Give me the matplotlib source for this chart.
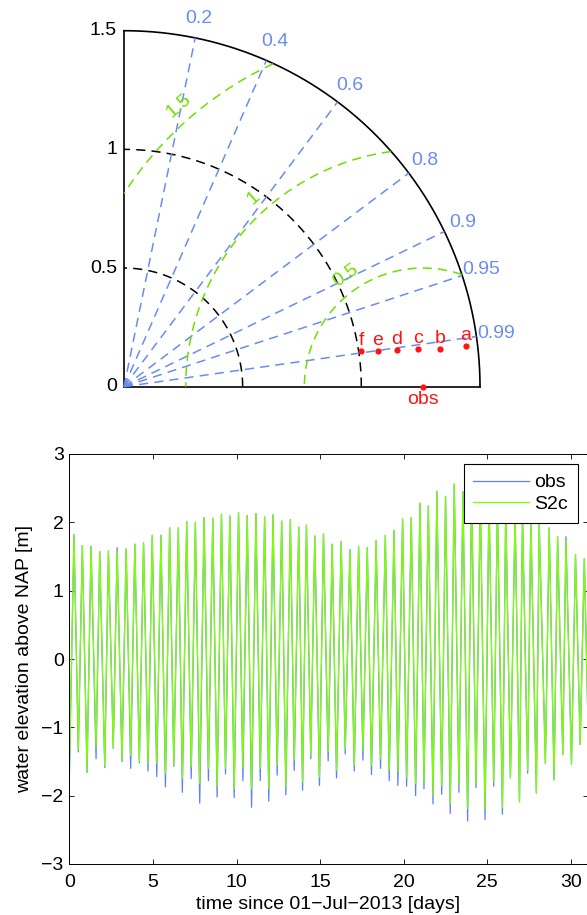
import numpy as np
import matplotlib
matplotlib.use("Agg")
import matplotlib.pyplot as plt

plt.rcParams["font.family"] = ["Liberation Sans", "DejaVu Sans"]
plt.rcParams["font.size"] = 14

# --- Taylor diagram data ---
obsStd = 1.26
modelNames = ["a", "b", "c", "d", "e", "f"]
modelStd = [1.45, 1.34, 1.25, 1.16, 1.08, 1.01]
modelCorr = [0.993, 0.993, 0.992, 0.991, 0.990, 0.989]
corrTicks = [0.2, 0.4, 0.6, 0.8, 0.9, 0.95, 0.99]
stdTicks = [0, 0.5, 1, 1.5]
stdArcs = [0.5, 1.0]
rmsLevels = [0.5, 1, 1.5]
maxStd = 1.5

# --- water level time series: low and high waters, days since 01-Jul-2013 ---
lowTimes = [0.00, 0.54, 1.06, 1.60, 2.12, 2.63, 3.15, 3.67, 4.19, 4.71,
            5.23, 5.75, 6.25, 6.76, 7.29, 7.80, 8.32, 8.84, 9.34, 9.86,
            10.38, 10.90, 11.42, 11.93, 12.43, 12.95, 13.45, 13.95, 14.44, 14.96,
            15.48, 15.98, 16.50, 17.04, 17.56, 18.07, 18.61, 19.13, 19.65, 20.17,
            20.71, 21.21, 21.75, 22.27, 22.78, 23.30, 23.82, 24.32, 24.86, 25.38,
            25.90, 26.38, 26.92, 27.41, 27.93, 28.47, 28.99, 29.51, 30.03, 30.55,
            31.07]
obsLow = [-1.80, -1.36, -1.66, -1.46, -1.59, -1.31, -1.50, -1.60, -1.52, -1.64,
          -1.72, -1.87, -1.57, -1.95, -1.75, -2.11, -1.78, -2.02, -1.68, -2.03,
          -1.78, -2.17, -1.78, -2.08, -1.70, -1.99, -1.63, -1.92, -1.46, -1.85,
          -1.49, -1.74, -1.39, -1.64, -1.48, -1.69, -1.60, -1.78, -1.85, -1.86,
          -2.00, -1.90, -2.12, -1.98, -2.26, -1.95, -2.37, -1.88, -2.35, -1.86,
          -2.27, -1.74, -2.09, -1.67, -1.96, -1.53, -1.77, -1.40, -1.54, -1.25,
          -1.55]
modelLow = [-1.70, -1.33, -1.64, -1.29, -1.57, -1.30, -1.48, -1.41, -1.50, -1.53,
            -1.53, -1.68, -1.55, -1.75, -1.58, -1.82, -1.60, -1.87, -1.60, -1.90,
            -1.60, -1.90, -1.60, -1.90, -1.56, -1.87, -1.48, -1.80, -1.41, -1.73,
            -1.36, -1.63, -1.31, -1.56, -1.34, -1.56, -1.46, -1.63, -1.65, -1.73,
            -1.82, -1.80, -2.00, -1.85, -2.12, -1.85, -2.19, -1.82, -2.20, -1.80,
            -2.17, -1.74, -2.09, -1.63, -1.96, -1.53, -1.77, -1.40, -1.54, -1.25,
            -1.55]
highTimes = [0.28, 0.78, 1.30, 1.82, 2.34, 2.86, 3.40, 3.92, 4.44, 4.96,
             5.48, 6.00, 6.52, 7.02, 7.54, 8.06, 8.58, 9.10, 9.60, 10.12,
             10.64, 11.16, 11.68, 12.18, 12.70, 13.22, 13.72, 14.18, 14.68, 15.20,
             15.72, 16.26, 16.78, 17.30, 17.82, 18.35, 18.90, 19.42, 19.93, 20.45,
             20.97, 21.47, 21.98, 22.50, 23.02, 23.54, 24.06, 24.58, 25.10, 25.60,
             26.10, 26.66, 27.10, 27.60, 28.10, 28.70, 29.20, 29.70, 30.27, 30.80]
obsHigh = [1.82, 1.66, 1.65, 1.57, 1.58, 1.63, 1.61, 1.68, 1.70, 1.81,
           1.81, 1.92, 1.92, 2.01, 2.00, 2.07, 2.06, 2.12, 2.09, 2.14,
           2.10, 2.13, 2.08, 2.11, 2.02, 2.04, 1.93, 1.96, 1.80, 1.83,
           1.68, 1.72, 1.60, 1.65, 1.63, 1.73, 1.81, 1.88, 2.05, 2.07,
           2.28, 2.24, 2.45, 2.38, 2.56, 2.45, 2.46, 2.38, 2.36, 2.28,
           2.22, 2.15, 2.10, 2.04, 1.98, 1.92, 1.79, 1.79, 1.53, 1.47]
modelHigh = [1.82, 1.66, 1.65, 1.57, 1.58, 1.58, 1.61, 1.68, 1.70, 1.81,
             1.81, 1.92, 1.92, 2.01, 2.00, 2.07, 2.06, 2.12, 2.09, 2.14,
             2.10, 2.13, 2.08, 2.11, 2.02, 2.04, 1.93, 1.96, 1.80, 1.83,
             1.68, 1.72, 1.60, 1.65, 1.63, 1.73, 1.81, 1.88, 2.05, 2.07,
             2.28, 2.24, 2.45, 2.38, 2.56, 2.45, 2.46, 2.38, 2.36, 2.28,
             2.22, 2.15, 2.10, 2.04, 1.98, 1.92, 1.79, 1.74, 1.53, 1.47]

BLUE = "#6a8cf2"
GREEN = "#6ee000"
RED = "#ff1414"
DASH = (0, (6, 4))


def Interleave(lows, highs):
    """Low, high, low, ... in time order."""
    out = []
    for i, v in enumerate(lows):
        out.append(v)
        if i < len(highs):
            out.append(highs[i])
    return out


def DrawTaylor(ax):
    theta = np.linspace(0, np.pi / 2, 400)
    # frame: axes and outer arc
    ax.plot([0, maxStd], [0, 0], color="k", lw=1.2, clip_on=False)
    ax.plot([0, 0], [0, maxStd], color="k", lw=1.2, clip_on=False)
    ax.plot(maxStd * np.cos(theta), maxStd * np.sin(theta), color="k", lw=1.2, clip_on=False)

    for s in stdTicks:
        ax.text(-0.03, s, f"{s:g}", ha="right", va="center")

    # standard deviation arcs
    for r in stdArcs:
        ax.plot(r * np.cos(theta), r * np.sin(theta), color="k", ls=DASH, lw=1.1, clip_on=False)

    # correlation rays
    for c in corrTicks:
        a = np.arccos(c)
        ax.plot([0, maxStd * np.cos(a)], [0, maxStd * np.sin(a)], color=BLUE, ls=DASH,
                lw=1.1, clip_on=False)
        ax.text(1.585 * np.cos(a), 1.585 * np.sin(a), f"{c:g}", color=BLUE,
                ha="center", va="center")

    # centred RMS difference contours around obs
    phi = np.linspace(0, np.pi, 800)
    labelAngles = [125, 132, 131]
    for R, ang in zip(rmsLevels, labelAngles):
        x = obsStd + R * np.cos(phi)
        y = R * np.sin(phi)
        inside = (x >= 0) & (x ** 2 + y ** 2 <= maxStd ** 2)
        ax.plot(np.where(inside, x, np.nan), np.where(inside, y, np.nan), color=GREEN,
                ls=DASH, lw=1.1, clip_on=False)
        a = np.radians(ang)
        ax.text(obsStd + (R + 0.07) * np.cos(a), (R + 0.07) * np.sin(a), f"{R:g}",
                color=GREEN, ha="center", va="center", rotation=ang - 90)

    # models and observation
    corr = np.array(modelCorr)
    std = np.array(modelStd)
    mx = std * corr
    my = std * np.sin(np.arccos(corr))
    ax.plot(mx, my, "o", color=RED, ms=4.5, mew=0, clip_on=False, zorder=5)
    for name, x, y in zip(modelNames, mx, my):
        ax.text(x, y + 0.025, name, color=RED, ha="center", va="baseline")
    ax.plot([obsStd], [0], "o", color=RED, ms=4.5, mew=0, clip_on=False, zorder=5)
    ax.text(obsStd, -0.02, "obs", color=RED, ha="center", va="top")

    ax.set_xlim(0, maxStd)
    ax.set_ylim(0, maxStd)
    ax.axis("off")


def DrawSeries(ax):
    tObs = Interleave(lowTimes, highTimes)
    ax.plot(tObs, Interleave(obsLow, obsHigh), color="#5b80ff", lw=0.9, label="obs")
    ax.plot(tObs, Interleave(modelLow, modelHigh), color="#7fff00", lw=0.9, label="S2c")
    ax.set_xlim(0, 31)
    ax.set_ylim(-3, 3)
    ax.set_xticks([0, 5, 10, 15, 20, 25, 30])
    ax.set_yticks([-3, -2, -1, 0, 1, 2, 3])
    ax.tick_params(direction="in", top=True, right=True, length=3.6, width=0.6)
    ax.tick_params(axis="x", pad=7)
    ax.tick_params(axis="y", pad=4)
    for sp in ax.spines.values():
        sp.set_linewidth(0.7)
    ax.set_xlabel("time since 01\u2212Jul\u22122013 [days]", labelpad=4)
    ax.set_ylabel("water elevation above NAP [m]", labelpad=6)
    leg = ax.legend(loc="upper right", bbox_to_anchor=(0.981, 0.9756), borderaxespad=0,
                    fancybox=False, framealpha=1, edgecolor="k", handlelength=2.85,
                    handletextpad=0.3, labelspacing=0.2, borderpad=0.5)
    leg.get_frame().set_linewidth(0.8)


figure = plt.figure(figsize=(5.87, 9.15), dpi=100)
ax1 = figure.add_axes([124 / 587, (915 - 386.7) / 915, 356 / 587, 356 / 915])
DrawTaylor(ax1)
ax2 = figure.add_axes([69.3 / 587, 51 / 915, 518.4 / 587, 410 / 915])
DrawSeries(ax2)
figure.savefig("out.png", dpi=100)
